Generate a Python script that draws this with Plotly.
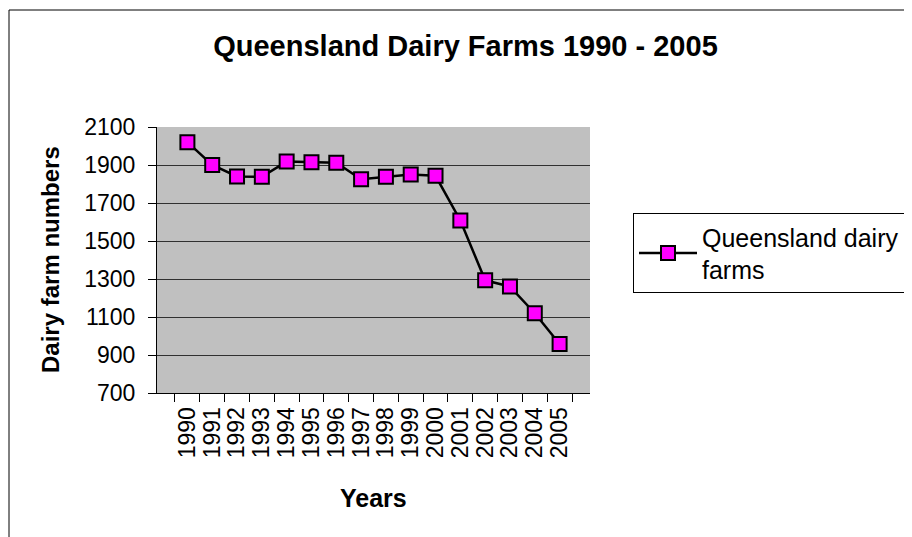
import plotly.graph_objects as go

# ── Data ───────────────────────────────────────────────────────────────────────
YEARS = [str(y) for y in range(1990, 2006)]
FARMS = [2020, 1900, 1840, 1838, 1918, 1915, 1912, 1825,
         1838, 1850, 1843, 1608, 1293, 1260, 1120, 958]
Y_TICKS = [700, 900, 1100, 1300, 1500, 1700, 1900, 2100]

FONT = "Arial, Liberation Sans, sans-serif"

# page body has an 8px margin, so the figure is drawn 8px in from the window
OFF = 8
W, H = 912 - OFF, 537 - OFF
# plot-area box in window pixels
L, R, T, B = 157 - OFF, 590 - OFF, 127 - OFF, 393 - OFF
PW, PH = R - L, B - T


def px_x(x):
    """window px -> paper x"""
    return (x - OFF - L) / PW


def px_y(y):
    """window px -> paper y"""
    return (B - (y - OFF)) / PH


fig = go.Figure(go.Scatter(
    x=YEARS, y=FARMS,
    mode="lines+markers",
    name="Queensland dairy<br>farms",
    line=dict(color="black", width=2.5),
    marker=dict(symbol="square", size=14, color="#FF00FF",
                line=dict(color="black", width=2)),
))

fig.update_layout(
    width=W, height=H,
    margin=dict(l=L, r=W - R, t=T, b=H - B, autoexpand=False),
    paper_bgcolor="white",
    plot_bgcolor="#C0C0C0",
    font=dict(family=FONT, color="black", size=23),
    title=dict(text="<b>Queensland Dairy Farms 1990 - 2005</b>",
               x=(465.5 - OFF) / W, xanchor="center",
               y=1 - (46 - OFF) / H, yanchor="middle",
               font=dict(size=29)),
    showlegend=True,
    legend=dict(x=px_x(633), y=px_y(293), xanchor="left", yanchor="bottom",
                bgcolor="white", bordercolor="black", borderwidth=1,
                font=dict(size=25), itemwidth=58),
    xaxis=dict(
        type="category", tickmode="array", tickvals=YEARS,
        tickson="boundaries",
        ticks="outside", ticklen=8, tickcolor="black",
        showline=True, linecolor="black", linewidth=1,
        tickangle=-90, showgrid=False, zeroline=False,
        tickfont=dict(size=23), ticklabelstandoff=4,
    ),
    yaxis=dict(
        range=[700, 2100], tickvals=Y_TICKS,
        ticks="outside", ticklen=8, tickcolor="black",
        showline=True, linecolor="black", linewidth=1,
        showgrid=True, gridcolor="#303030", gridwidth=1,
        zeroline=False, tickfont=dict(size=23), ticklabelstandoff=8,
    ),
    shapes=[dict(type="rect", xref="paper", yref="paper",
                 x0=px_x(OFF + 1), x1=px_x(930), y0=px_y(560), y1=px_y(10),
                 line=dict(color="black", width=1), layer="below")],
    annotations=[
        dict(text="<b>Years</b>", xref="paper", yref="paper",
             x=0.5, y=px_y(498), xanchor="center", yanchor="middle",
             showarrow=False, font=dict(size=25)),
        dict(text="<b>Dairy farm numbers</b>", xref="paper", yref="paper",
             x=px_x(50), y=px_y(260), xanchor="center", yanchor="middle",
             textangle=-90, showarrow=False, font=dict(size=24)),
    ],
)

fig.write_html("out.html")
